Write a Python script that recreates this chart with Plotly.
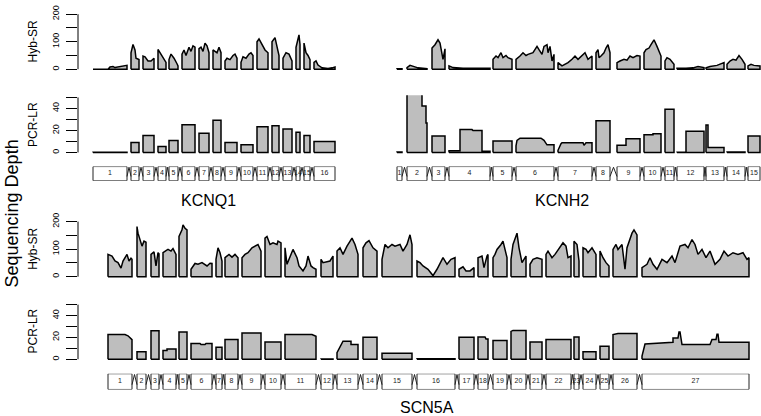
import plotly.graph_objects as go

W, H = 761, 416
FONT = "Liberation Sans, Arial, Helvetica, sans-serif"

# ---------------- KCNQ1 ----------------
KCNQ1_START = [0, 38, 50, 65, 76, 89, 106, 120, 132, 148, 164, 179, 190, 203, 211, 221]
KCNQ1_END = [34, 46, 61, 73, 85, 102, 116, 128, 144, 160, 175, 186, 199, 207, 217, 242]
KCNQ1_HYB = [
    [[0, 0], [15, 0], [17, 8], [20, 10], [22, 6], [25, 8], [29, 10], [32, 14], [34, 14]],
    [[38, 60], [40, 90], [42, 70], [43, 40], [46, 35]],
    [[50, 48], [52, 45], [55, 30], [58, 30], [61, 40]],
    [[65, 72], [67, 60], [70, 40], [72, 30], [73, 25]],
    [[76, 35], [78, 55], [81, 40], [84, 20], [85, 12]],
    [[89, 55], [91, 70], [93, 50], [96, 80], [98, 65], [100, 85], [102, 80]],
    [[106, 75], [108, 80], [110, 65], [112, 95], [114, 85], [116, 60]],
    [[120, 70], [122, 65], [124, 60], [126, 80], [128, 60]],
    [[132, 30], [134, 40], [137, 35], [140, 50], [142, 55], [144, 40]],
    [[148, 25], [150, 45], [153, 40], [156, 55], [158, 60], [160, 50]],
    [[164, 100], [166, 110], [169, 90], [172, 70], [175, 60]],
    [[179, 100], [182, 115], [184, 80], [186, 50]],
    [[190, 40], [193, 60], [196, 55], [199, 30]],
    [[203, 80], [205, 110], [206, 125], [207, 90]],
    [[211, 95], [213, 60], [215, 50], [217, 35]],
    [[221, 25], [223, 30], [225, 15], [229, 5], [235, 3], [239, 5], [242, 8]],
]
KCNQ1_PCR = [0.3, 9, 15.5, 5.4, 11, 25.3, 17.6, 29.2, 9.2, 7.1, 23.5, 24.4, 21.4, 18.5, 15.5, 10.1]

# ---------------- KCNH2 ----------------
KCNH2_START = [1, 11, 36, 53, 97, 120, 162, 200, 221, 248, 269, 281, 310, 331, 352]
KCNH2_END = [6, 31, 49, 94, 116, 158, 196, 214, 244, 265, 278, 308, 328, 349, 364]
KCNH2_HYB = [
    [[1, 2], [6, 2]],
    [[11, 6], [14, 14], [17, 10], [22, 5], [31, 2]],
    [[36, 77], [39, 89], [42, 107], [44, 95], [46, 60], [47, 36], [49, 74]],
    [[53, 12], [57, 6], [67, 4], [84, 4], [94, 4]],
    [[97, 36], [100, 48], [102, 42], [105, 60], [107, 42], [110, 50], [112, 42], [116, 36]],
    [[120, 36], [124, 48], [127, 60], [130, 50], [132, 54], [137, 60], [141, 83], [143, 71],
     [146, 54], [148, 83], [151, 89], [152, 60], [154, 83], [156, 30], [158, 54]],
    [[162, 24], [166, 12], [169, 18], [172, 24], [176, 36], [179, 48], [182, 36], [186, 48],
     [189, 60], [192, 36], [196, 48]],
    [[200, 60], [202, 71], [203, 42], [205, 48], [208, 60], [210, 77], [212, 89], [214, 60]],
    [[221, 24], [224, 30], [228, 36], [231, 33], [234, 48], [237, 42], [241, 50], [244, 48]],
    [[248, 60], [250, 71], [253, 77], [255, 89], [258, 107], [261, 83], [265, 48]],
    [[269, 30], [271, 42], [274, 36], [278, 18]],
    [[281, 4], [290, 4], [297, 5], [302, 10], [308, 6]],
    [[310, 5], [314, 10], [317, 12], [321, 14], [328, 24]],
    [[331, 18], [334, 30], [337, 36], [340, 33], [343, 50], [346, 36], [349, 18]],
    [[352, 12], [355, 18], [358, 14], [364, 12]],
]
KCNH2_PCR = [
    0.5,
    [[11, 60], [26, 60], [26, 42.3], [30, 42.3], [30, 26.8], [31, 26.8]],
    14.9,
    [[53, 1.5], [64, 1.5], [64, 20.8], [76, 20.8], [77, 19.9], [86, 19.9], [86, 1.2], [94, 1.2]],
    10.4,
    [[120, 6], [121, 11], [124, 13], [145, 13], [148, 11], [151, 7], [158, 7]],
    [[162, 2], [165, 8], [166, 8.9], [187, 8.9], [188, 6.5], [190, 8.9], [196, 8.9]],
    28.9,
    [[221, 6.5], [230, 6.5], [230, 12.5], [244, 12.5]],
    [[248, 16.1], [257, 16.1], [257, 17], [265, 17]],
    39.3,
    [[281, 0.3], [290, 0.3], [290, 19.3], [308, 19.3]],
    [[310, 25], [312, 25], [312, 4.5], [328, 4.5]],
    0.5,
    14.9,
]

# ---------------- SCN5A ----------------
SCN5A_START = [0, 29, 43, 55, 71, 83, 108, 117, 134, 157, 177, 213, 229, 255, 274, 309, 351,
               370, 385, 403, 422, 438, 466, 475, 492, 505, 534]
SCN5A_END = [24, 38, 51, 68, 79, 104, 114, 130, 153, 173, 208, 225, 250, 269, 304, 347, 366,
             380, 399, 418, 434, 463, 471, 488, 501, 529, 641]
SCN5A_HYB = [
    [[0, 81], [4, 75], [7, 57], [10, 51], [13, 31], [15, 57], [19, 81], [21, 57], [23, 67], [24, 63]],
    [[29, 182], [30, 158], [32, 129], [34, 111], [36, 129], [38, 125]],
    [[43, 81], [46, 90], [48, 39], [50, 87], [51, 83]],
    [[55, 87], [58, 95], [60, 99], [63, 93], [65, 102], [68, 81]],
    [[71, 146], [74, 170], [75, 188], [77, 176], [79, 170]],
    [[83, 27], [87, 48], [90, 45], [94, 51], [96, 45], [99, 39], [102, 49], [104, 48]],
    [[108, 63], [110, 105], [112, 87], [114, 57]],
    [[117, 69], [121, 81], [124, 71], [127, 81], [130, 69]],
    [[134, 69], [137, 81], [140, 87], [144, 105], [147, 111], [150, 117], [153, 93]],
    [[157, 140], [159, 146], [162, 117], [165, 123], [169, 117], [170, 129], [173, 123]],
    [[177, 105], [179, 45], [182, 69], [185, 99], [189, 69], [191, 39], [195, 21], [198, 39],
     [200, 75], [203, 39], [205, 33], [208, 27]],
    [[213, 63], [215, 51], [219, 55], [222, 57], [225, 75]],
    [[229, 93], [232, 105], [235, 81], [239, 111], [244, 140], [247, 117], [250, 81]],
    [[255, 105], [258, 123], [261, 131], [265, 105], [269, 93]],
    [[274, 63], [277, 117], [280, 105], [284, 117], [287, 111], [292, 117], [295, 93],
     [299, 117], [302, 152], [304, 117]],
    [[309, 57], [312, 51], [315, 39], [320, 27], [325, 4], [329, 27], [332, 51], [335, 69],
     [339, 45], [343, 63], [347, 69]],
    [[351, 27], [355, 36], [358, 21], [362, 21], [366, 33]],
    [[370, 69], [374, 75], [376, 33], [379, 75], [380, 81]],
    [[385, 69], [387, 81], [389, 99], [393, 117], [395, 129], [399, 69]],
    [[403, 63], [405, 117], [409, 158], [411, 105], [414, 51], [418, 75]],
    [[422, 45], [425, 63], [429, 69], [434, 63]],
    [[438, 81], [440, 93], [444, 69], [447, 81], [452, 105], [455, 123], [458, 111], [460, 69], [463, 75]],
    [[466, 129], [469, 117], [471, 57]],
    [[475, 105], [478, 99], [480, 87], [484, 105], [488, 81]],
    [[492, 93], [495, 69], [498, 51], [501, 39]],
    [[505, 99], [508, 117], [510, 99], [514, 117], [517, 27], [519, 105], [524, 158], [526, 170], [529, 152]],
    [[534, 33], [539, 45], [542, 69], [545, 45], [549, 27], [554, 63], [559, 51], [564, 75],
     [567, 51], [572, 111], [577, 117], [580, 105], [584, 135], [587, 117], [590, 81], [594, 99],
     [598, 69], [602, 93], [607, 45], [612, 63], [616, 93], [620, 75], [625, 87], [630, 81],
     [635, 87], [639, 63], [641, 69]],
]
SCN5A_PCR = [
    [[0, 22.6], [17, 22.6], [20, 21.5], [24, 18]],
    6.9,
    26.2,
    [[55, 8], [59, 8], [59, 9.3], [68, 9.3]],
    25,
    [[83, 14.4], [92, 14.4], [93, 13.4], [97, 13.4], [98, 14.4], [104, 14.4]],
    11.1,
    18,
    24,
    15.9,
    [[177, 22.6], [204, 22.6], [208, 21]],
    0.3,
    [[229, 6], [235, 16.5], [243, 16.5], [243, 13.5], [250, 13.5]],
    20.1,
    5.4,
    0.5,
    20.1,
    [[370, 20.4], [377, 20.4], [378, 18.6], [380, 18.6]],
    17.1,
    [[403, 25.5], [405, 26.4], [418, 26.4]],
    15.9,
    18,
    20.4,
    6.9,
    12,
    [[505, 22.6], [510, 23.5], [529, 23.5]],
    [[534, 3], [537, 14], [562, 15.6], [565, 15.6], [565, 19.5], [570, 19.5], [571, 25],
     [572, 25], [574, 13.5], [602, 13.5], [604, 18], [608, 18], [609, 23], [610, 23],
     [611, 15.6], [641, 15.6]],
]

GENES = [
    # name, starts, ends, hyb, pcr, x-axis id, y ids (hyb, pcr, exon)
    ("KCNQ1", KCNQ1_START, KCNQ1_END, KCNQ1_HYB, KCNQ1_PCR, "x", ("y", "y2", "y3")),
    ("KCNH2", KCNH2_START, KCNH2_END, KCNH2_HYB, KCNH2_PCR, "x2", ("y4", "y5", "y6")),
    ("SCN5A", SCN5A_START, SCN5A_END, SCN5A_HYB, SCN5A_PCR, "x3", ("y7", "y8", "y9")),
]

FILL = "#BEBEBE"


def polys(starts, ends, profiles):
    xs, ys = [], []
    for s, e, prof in zip(starts, ends, profiles):
        if not isinstance(prof, list):
            prof = [[s, prof], [e, prof]]
        xs += [s] + [p[0] for p in prof] + [e, s, None]
        ys += [0] + [p[1] for p in prof] + [0, 0, None]
    return xs, ys


fig = go.Figure()
for name, st, en, hyb, pcr, xa, (yh, yp, ye) in GENES:
    for prof, ya in ((hyb, yh), (pcr, yp)):
        xs, ys = polys(st, en, prof)
        fig.add_trace(go.Scatter(x=xs, y=ys, xaxis=xa, yaxis=ya, mode="lines",
                                 fill="toself", fillcolor=FILL,
                                 line=dict(color="black", width=1.5),
                                 hoverinfo="skip", showlegend=False))
    # exon boxes
    bx, by = [], []
    for s, e in zip(st, en):
        bx += [s, e, e, s, s, None]
        by += [0, 0, 1, 1, 0, None]
    fig.add_trace(go.Scatter(x=bx, y=by, xaxis=xa, yaxis=ye, mode="lines", fill="toself",
                             fillcolor="white", line=dict(color="#222222", width=1),
                             hoverinfo="skip", showlegend=False))
    # introns
    ix, iy = [], []
    for i in range(len(st) - 1):
        a, b = en[i], st[i + 1]
        ix += [a, (a + b) / 2, b, None]
        iy += [0.3, 0.95, 0.3, None]
    fig.add_trace(go.Scatter(x=ix, y=iy, xaxis=xa, yaxis=ye, mode="lines",
                             line=dict(color="#222222", width=1),
                             hoverinfo="skip", showlegend=False))
    # exon numbers
    fig.add_trace(go.Scatter(x=[(s + e) / 2 for s, e in zip(st, en)], y=[0.5] * len(st),
                             text=[str(i + 1) for i in range(len(st))], mode="text",
                             textfont=dict(size=7, color="#222222", family=FONT),
                             xaxis=xa, yaxis=ye, hoverinfo="skip", showlegend=False))


def ydom(px_min, px_max, vmin, vmax, rmin, rmax):
    sc = (px_min - px_max) / (vmax - vmin)
    bottom = px_min + (vmin - rmin) * sc
    top = px_max - (rmax - vmax) * sc
    return [1 - bottom / H, 1 - top / H]


def xdom(px0, px1):
    return [px0 / W, min(px1 / W, 1.0)]


hyb_top = ydom(63.3, 7.3, 0, 200, -8, 208)
pcr_top = ydom(148.0, 92.0, 0, 50, -2, 52)
hyb_bot = ydom(274.3, 218.3, 0, 200, -8, 208)
pcr_bot = ydom(358.3, 302.7, 0, 50, -2, 52)
exon_top = [1 - 176.7 / H, 1 - 162.3 / H]
exon_bot = [1 - 389.0 / H, 1 - 373.0 / H]

layout = dict(
    width=W, height=H, margin=dict(l=0, r=0, t=0, b=0),
    paper_bgcolor="white", plot_bgcolor="white",
    font=dict(family=FONT, color="black"),
    showlegend=False,
)
hidden_x = dict(visible=False, showgrid=False, zeroline=False)
layout["xaxis"] = dict(domain=xdom(78, 360), range=[-15, 267], **hidden_x)
layout["xaxis2"] = dict(domain=xdom(380, 761), range=[-16, 365], **hidden_x)
layout["xaxis3"] = dict(domain=xdom(78, 761), range=[-30, 653], **hidden_x)


def shown_y(anchor, dom, rng, vals, text):
    return dict(anchor=anchor, domain=dom, range=rng, tickvals=vals, ticktext=text,
                ticks="outside", ticklen=11, tickwidth=1, tickcolor="black",
                showline=False, showgrid=False, zeroline=False, tickangle=-90,
                tickfont=dict(size=9, family=FONT, color="black"), ticklabelstandoff=3)


def hidden_y(anchor, dom, rng):
    return dict(anchor=anchor, domain=dom, range=rng, visible=False,
                showgrid=False, zeroline=False)


HYB_TICKS = [0, 50, 100, 150, 200]
HYB_TEXT = ["0", "", "100", "", "200"]
PCR_TICKS = [0, 10, 20, 30, 40, 50]
PCR_TEXT = ["0", "", "20", "", "40", ""]

layout["yaxis"] = shown_y("x", hyb_top, [-8, 208], HYB_TICKS, HYB_TEXT)
layout["yaxis2"] = shown_y("x", pcr_top, [-2, 52], PCR_TICKS, PCR_TEXT)
layout["yaxis3"] = hidden_y("x", exon_top, [0, 1])
layout["yaxis4"] = hidden_y("x2", hyb_top, [-8, 208])
layout["yaxis5"] = hidden_y("x2", pcr_top, [-2, 52])
layout["yaxis6"] = hidden_y("x2", exon_top, [0, 1])
layout["yaxis7"] = shown_y("x3", hyb_bot, [-8, 208], HYB_TICKS, HYB_TEXT)
layout["yaxis8"] = shown_y("x3", pcr_bot, [-2, 52], PCR_TICKS, PCR_TEXT)
layout["yaxis9"] = hidden_y("x3", exon_bot, [0, 1])

fig.update_layout(**layout)

# axis lines spanning only the tick range (like base R)
for xa, ya, top in (("x", "y", 200), ("x", "y2", 50), ("x3", "y7", 200), ("x3", "y8", 50)):
    fig.add_shape(type="line", xref=f"{xa} domain", yref=ya, x0=0, x1=0, y0=0, y1=top,
                  line=dict(color="black", width=1))


def ann(text, px, py, size, angle=0):
    fig.add_annotation(text=text, x=px / W, y=1 - py / H, xref="paper", yref="paper",
                       xanchor="center", yanchor="middle", showarrow=False,
                       textangle=angle, font=dict(size=size, family=FONT, color="black"))


ann("Hyb-SR", 33, 35, 12, -90)
ann("PCR-LR", 33, 120, 12, -90)
ann("Hyb-SR", 33, 246, 12, -90)
ann("PCR-LR", 33, 330, 12, -90)
ann("Sequencing Depth", 12, 210, 18, -90)
ann("KCNQ1", 208, 197, 16)
ann("KCNH2", 562, 197, 16)
ann("SCN5A", 427, 407, 16)

fig.write_html("out.html", config={"displayModeBar": False, "staticPlot": True},
               post_script="document.body.style.margin='0';document.body.style.overflow='hidden';")
